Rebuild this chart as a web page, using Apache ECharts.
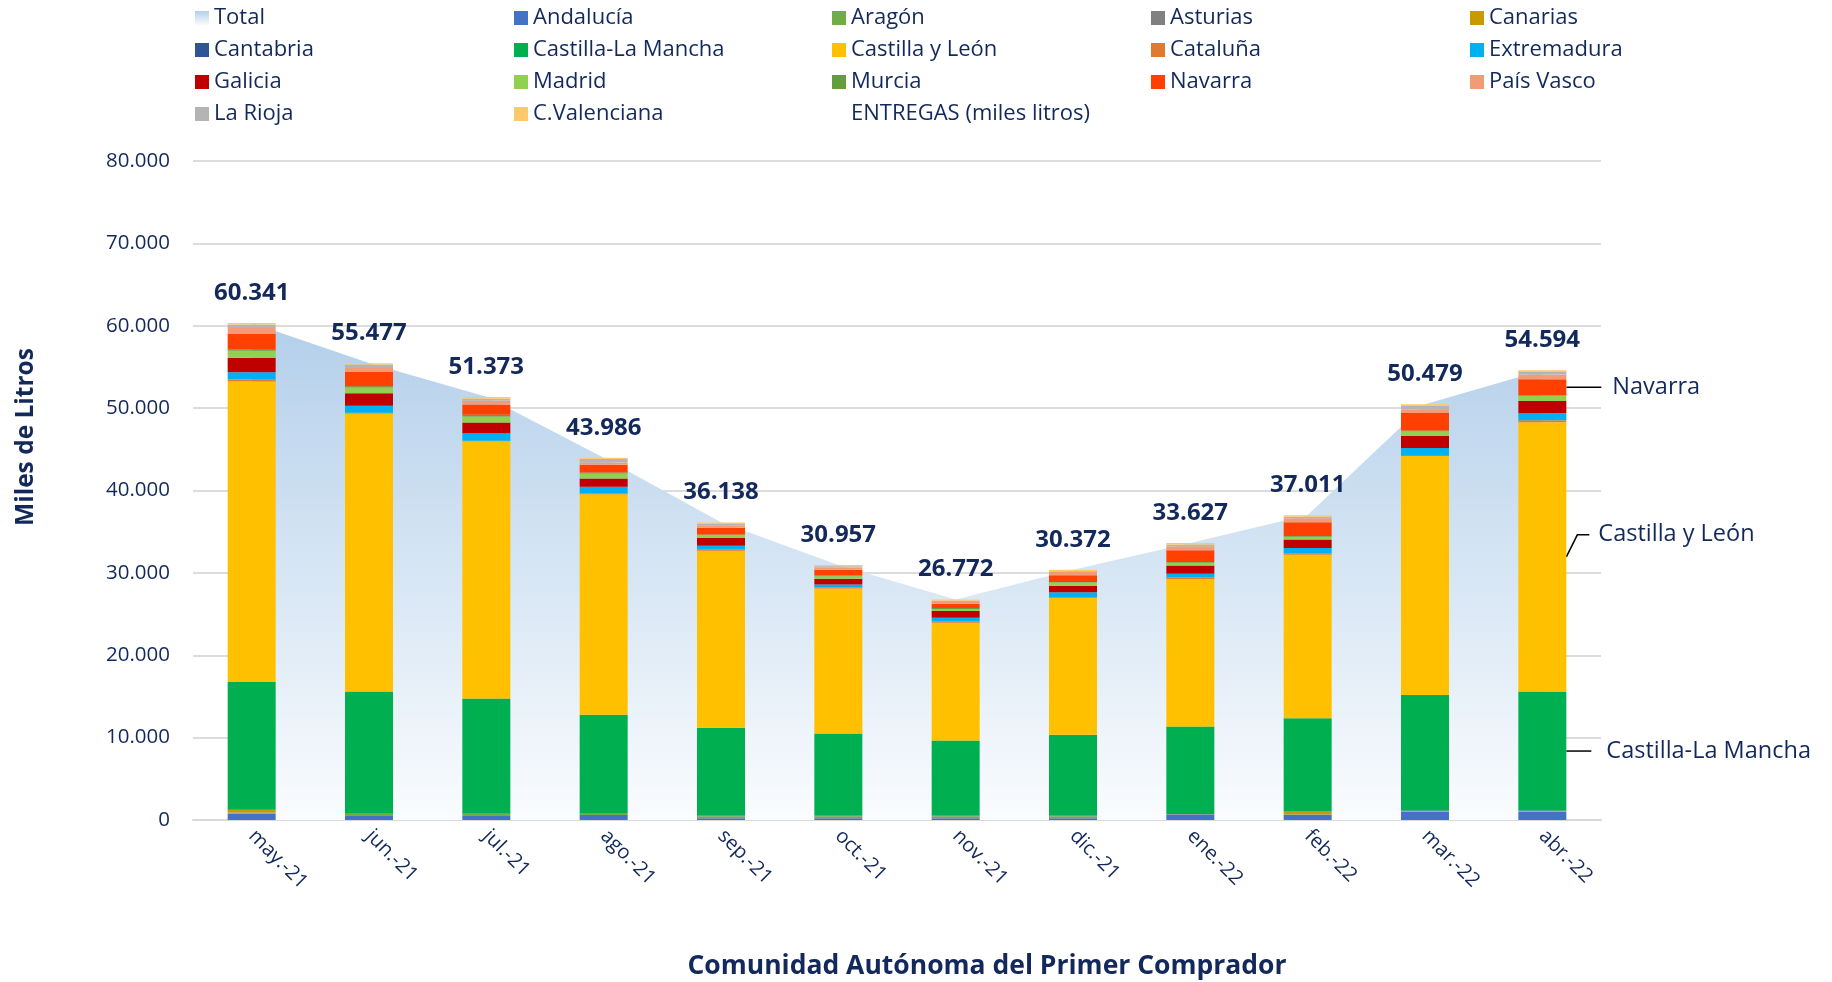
<!DOCTYPE html>
<html>
<head>
<meta charset="utf-8">
<script src="https://cdn.jsdelivr.net/npm/echarts@6/dist/echarts.min.js"></script>
<style>
html, body { margin: 0; padding: 0; background: #fff; }
#chart { width: 1832px; height: 982px; }
</style>
</head>
<body>
<div id="chart"></div>
<script>
var months = ['may.-21', 'jun.-21', 'jul.-21', 'ago.-21', 'sep.-21', 'oct.-21', 'nov.-21', 'dic.-21', 'ene.-22', 'feb.-22', 'mar.-22', 'abr.-22'];
var total = [60341, 55477, 51373, 43986, 36138, 30957, 26772, 30372, 33627, 37011, 50479, 54594];

var andalucia = [800, 500, 500, 600, 200, 200, 200, 200, 600, 600, 1000, 1000];
var aragon = [60, 250, 250, 150, 250, 250, 250, 250, 50, 50, 50, 50];
var asturias = [40, 40, 40, 40, 40, 40, 40, 40, 40, 40, 40, 40];
var canarias = [300, 0, 0, 0, 0, 0, 0, 0, 0, 300, 0, 0];
var cantabria = [50, 50, 50, 50, 50, 50, 50, 50, 50, 50, 50, 50];
var castillaLaMancha = [15490, 14760, 13910, 11930, 10670, 9960, 9100, 9820, 10610, 11300, 14040, 14460];
var castillaYLeon = [36500, 33750, 31240, 26760, 21480, 17590, 14300, 16590, 17900, 19860, 29000, 32700];
var cataluna = [240, 80, 40, 120, 180, 150, 190, 80, 190, 150, 120, 230];
var extremadura = [880, 870, 920, 800, 410, 350, 410, 610, 450, 680, 850, 860];
var galicia = [1760, 1500, 1320, 1000, 940, 700, 820, 800, 1010, 1020, 1470, 1490];
var madrid = [840, 710, 720, 600, 370, 300, 260, 380, 340, 340, 580, 630];
var murcia = [120, 150, 200, 120, 80, 100, 110, 80, 80, 80, 80, 80];
var navarra = [1920, 1740, 1240, 950, 820, 700, 520, 800, 1420, 1670, 2120, 1910];
var paisVasco = [720, 470, 480, 280, 220, 250, 220, 460, 490, 490, 390, 590];
var laRioja = [440, 430, 240, 420, 230, 170, 150, 80, 220, 190, 460, 310];
var cValenciana = [160, 160, 200, 160, 190, 150, 150, 150, 180, 190, 230, 190];

var yTicks = [0, 10000, 20000, 30000, 40000, 50000, 60000, 70000, 80000];

var regions = [
    ['Andalucía', andalucia, '#4472c4'],
    ['Aragón', aragon, '#70ad47'],
    ['Asturias', asturias, '#808080'],
    ['Canarias', canarias, '#c99a00'],
    ['Cantabria', cantabria, '#2f5597'],
    ['Castilla-La Mancha', castillaLaMancha, '#00b050'],
    ['Castilla y León', castillaYLeon, '#ffc000'],
    ['Cataluña', cataluna, '#e07a30'],
    ['Extremadura', extremadura, '#00b0f0'],
    ['Galicia', galicia, '#c00000'],
    ['Madrid', madrid, '#92d050'],
    ['Murcia', murcia, '#639e3a'],
    ['Navarra', navarra, '#ff4000'],
    ['País Vasco', paisVasco, '#f29c77'],
    ['La Rioja', laRioja, '#b4b4b4'],
    ['C.Valenciana', cValenciana, '#ffc96b']
];

var navy = '#13295b';
var font = "'Open Sans', 'Noto Sans', sans-serif";

function fmt(v) {
    return String(v).replace(/\B(?=(\d{3})+(?!\d))/g, '.');
}

function areaGradient() {
    return new echarts.graphic.LinearGradient(0, 0, 0, 1, [
        { offset: 0, color: '#b3cfea' },
        { offset: 1, color: '#fafcfe' }
    ]);
}

var chart = echarts.init(document.getElementById('chart'));

var series = [{
    name: 'Total',
    type: 'line',
    z: 1,
    data: total,
    symbol: 'circle',
    symbolSize: 2,
    itemStyle: { color: 'rgba(0,0,0,0)' },
    lineStyle: { width: 0 },
    areaStyle: { color: areaGradient(), opacity: 1 },
    label: {
        show: true,
        position: 'top',
        distance: 17,
        color: navy,
        fontSize: 24,
        fontWeight: 'bold',
        fontFamily: font,
        formatter: function (p) { return fmt(p.value); }
    }
}];
regions.forEach(function (r) {
    series.push({
        name: r[0],
        type: 'bar',
        stack: 'entregas',
        barWidth: 48,
        data: r[1],
        itemStyle: { color: r[2] }
    });
});
series.push({ name: 'ENTREGAS (miles litros)', type: 'line', data: [] });

var legendCols = [
    [195, ['Total', 'Cantabria', 'Galicia', 'La Rioja']],
    [514, ['Andalucía', 'Castilla-La Mancha', 'Madrid', 'C.Valenciana']],
    [832, ['Aragón', 'Castilla y León', 'Murcia', 'ENTREGAS (miles litros)']],
    [1151, ['Asturias', 'Cataluña', 'Navarra']],
    [1470, ['Canarias', 'Extremadura', 'País Vasco']]
];
var legends = legendCols.map(function (c) {
    return {
        orient: 'vertical',
        left: c[0],
        top: 7,
        padding: 0,
        itemGap: 10,
        itemWidth: 14,
        itemHeight: 14,
        icon: 'rect',
        selectedMode: false,
        textStyle: { color: navy, fontSize: 22, fontFamily: font, lineHeight: 22 },
        data: c[1].map(function (n) {
            if (n === 'Total') return { name: n, itemStyle: { color: areaGradient() } };
            if (n === 'ENTREGAS (miles litros)') return { name: n, itemStyle: { color: 'rgba(0,0,0,0)' } };
            return { name: n };
        })
    };
});

var option = {
    animation: false,
    backgroundColor: '#fff',
    legend: legends,
    grid: { left: 193, right: 231, top: 161, bottom: 162 },
    xAxis: {
        type: 'category',
        data: months,
        axisLine: { lineStyle: { color: '#d9d9d9', width: 2 } },
        axisTick: { show: false },
        axisLabel: { interval: 0, rotate: -45, margin: 13, color: navy, fontSize: 20, fontFamily: font }
    },
    yAxis: {
        type: 'value',
        min: yTicks[0],
        max: yTicks[yTicks.length - 1],
        interval: yTicks[1] - yTicks[0],
        axisLine: { show: false },
        axisTick: { show: false },
        splitLine: { lineStyle: { color: '#dcdcdc', width: 2 } },
        axisLabel: { margin: 23, color: navy, fontSize: 20.5, fontFamily: font, formatter: fmt }
    },
    graphic: [
        {
            id: 'yname', type: 'text', x: 26, y: 437, rotation: Math.PI / 2,
            style: { text: 'Miles de Litros', fill: navy, font: 'bold 24.5px ' + font, align: 'center', verticalAlign: 'middle' }
        },
        {
            id: 'xname', type: 'text', x: 987, y: 966,
            style: { text: 'Comunidad Autónoma del Primer Comprador', fill: navy, font: 'bold 26.5px ' + font, align: 'center', verticalAlign: 'middle' }
        }
    ],
    series: series
};
chart.setOption(option);

// leader labels on the last bar
var last = months.length - 1;
function midOf(k) {
    var s = 0;
    for (var i = 0; i < k; i++) s += regions[i][1][last];
    return s + regions[k][1][last] / 2;
}
function yOf(v) { return chart.convertToPixel({ gridIndex: 0 }, [last, v])[1]; }
var edge = chart.convertToPixel({ gridIndex: 0 }, [last, 0])[0] + 24;
var yNav = yOf(midOf(12));
var yCyl = yOf(midOf(6));
var yClm = yOf(midOf(5));
var lineStyle = { stroke: '#000', lineWidth: 1.5, fill: null };
var annoText = { fill: navy, font: '23.5px ' + font, align: 'left', verticalAlign: 'middle' };

chart.setOption({
    graphic: [
        { id: 'navL', type: 'polyline', shape: { points: [[edge, yNav], [edge + 35, yNav]] }, style: lineStyle },
        { id: 'navT', type: 'text', x: edge + 46, y: yNav, style: Object.assign({ text: 'Navarra' }, annoText) },
        { id: 'cylL', type: 'polyline', shape: { points: [[edge, yCyl], [edge + 11, yCyl - 22], [edge + 23, yCyl - 22]] }, style: lineStyle },
        { id: 'cylT', type: 'text', x: edge + 32, y: yCyl - 22, style: Object.assign({ text: 'Castilla y León' }, annoText) },
        { id: 'clmL', type: 'polyline', shape: { points: [[edge, yClm], [edge + 25, yClm]] }, style: lineStyle },
        { id: 'clmT', type: 'text', x: edge + 40, y: yClm, style: Object.assign({ text: 'Castilla-La Mancha' }, annoText) }
    ]
});
</script>
</body>
</html>
